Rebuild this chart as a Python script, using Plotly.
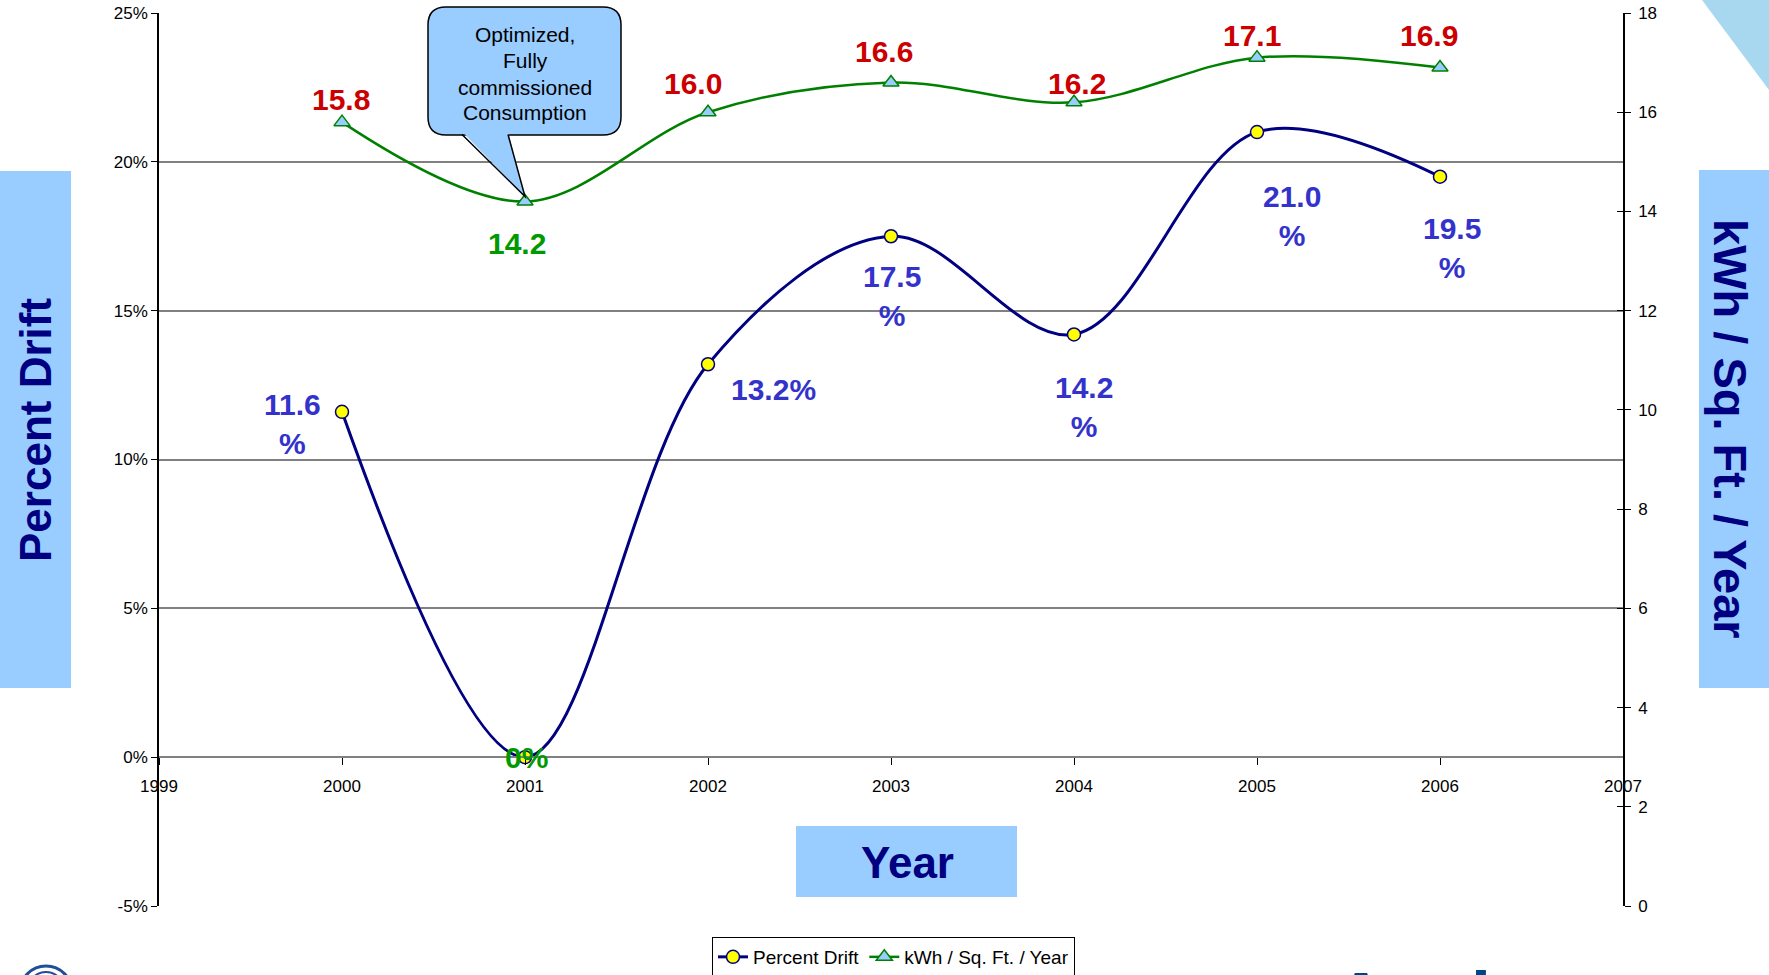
import plotly.graph_objects as go

# ---------------- data ----------------
years = [2000, 2001, 2002, 2003, 2004, 2005, 2006]
percent_drift = [11.6, 0.0, 13.2, 17.5, 14.2, 21.0, 19.5]
kwh_sqft_year = [15.8, 14.2, 16.0, 16.6, 16.2, 17.1, 16.9]

drift_labels = ["11.6<br>%", "0%", "13.2%", "17.5<br>%", "14.2<br>%", "21.0<br>%", "19.5<br>%"]
kwh_labels = ["15.8", "14.2", "16.0", "16.6", "16.2", "17.1", "16.9"]

x_ticks = [1999, 2000, 2001, 2002, 2003, 2004, 2005, 2006, 2007]
left_ticks = [-5, 0, 5, 10, 15, 20, 25]
left_tick_text = ["-5%", "0%", "5%", "10%", "15%", "20%", "25%"]
right_ticks = [0, 2, 4, 6, 8, 10, 12, 14, 16, 18]

callout_lines = ["Optimized,", "Fully", "commissioned", "Consumption"]

# ---------------- styles ----------------
W, H = 1769, 975
ML, MR, MT, MB = 159, 146, 13, 69
X_RANGE = [1999, 2007]
Y_RANGE = [-5, 25]
Y2_RANGE = [0, 18]

TICKFAM = "Liberation Sans Narrow, Arial Narrow, Liberation Sans, Arial, sans-serif"
ARIAL = "Liberation Sans, Arial, sans-serif"
LIGHT_BLUE = "#99CCFF"
NAVY = "#000080"

# label offsets in pixels (dx, dy up)
kwh_offsets = [(-1, 23), (-8, -42), (-15, 29), (-7, 31), (3, 19), (-5, 22), (-11, 32)]
kwh_colors = ["#CC0000", "#009900", "#CC0000", "#CC0000", "#CC0000", "#CC0000", "#CC0000"]
drift_offsets = [(-50, -12), (1, 0), (65, -25), (1, -60), (10, -73), (35, -84), (12, -71)]
drift_colors = ["#3333CC", "#009900", "#3333CC", "#3333CC", "#3333CC", "#3333CC", "#3333CC"]
callout_line_y = [35, 61, 87, 112]


def px(x):
    return (x - ML) / (W - ML - MR)


def py(y):
    return (H - MB - y) / (H - MT - MB)


fig = go.Figure()

fig.add_trace(go.Scatter(
    x=years, y=percent_drift, name="Percent Drift", mode="lines+markers",
    line=dict(color=NAVY, width=3, shape="spline", smoothing=1),
    marker=dict(symbol="circle", size=13, color="#FFFF00", line=dict(color=NAVY, width=1.5)),
    yaxis="y",
))
fig.add_trace(go.Scatter(
    x=years, y=kwh_sqft_year, name="kWh / Sq. Ft. / Year", mode="lines+markers",
    line=dict(color="#008000", width=2.5, shape="spline", smoothing=1),
    marker=dict(symbol="triangle-up", size=14, color=LIGHT_BLUE, line=dict(color="#008000", width=1.5)),
    yaxis="y2",
))
# helper trace for crossing ticks on the right axis
fig.add_trace(go.Scatter(x=[None], y=[None], yaxis="y3", showlegend=False, hoverinfo="skip"))

annotations = []
for yr, v, t, (dx, dy), c in zip(years, kwh_sqft_year, kwh_labels, kwh_offsets, kwh_colors):
    annotations.append(dict(x=yr, y=v, xref="x", yref="y2", text=t, showarrow=False,
                            xshift=dx, yshift=dy, xanchor="center", yanchor="middle",
                            font=dict(family=ARIAL, size=30, color=c, weight="bold")))
for yr, v, t, (dx, dy), c in zip(years, percent_drift, drift_labels, drift_offsets, drift_colors):
    annotations.append(dict(x=yr, y=v, xref="x", yref="y", text=t, showarrow=False,
                            xshift=dx, yshift=dy, xanchor="center", yanchor="middle",
                            font=dict(family=ARIAL, size=30, color=c, weight="bold")))

# titles in boxes
annotations += [
    dict(x=px(36), y=py(430), xref="paper", yref="paper", text="Percent Drift", textangle=-90,
         xanchor="center", yanchor="middle",
         showarrow=False, font=dict(family=ARIAL, size=44, color=NAVY, weight="bold")),
    dict(x=px(1731), y=py(429), xref="paper", yref="paper", text="kWh / Sq. Ft. / Year", textangle=90,
         xanchor="center", yanchor="middle",
         showarrow=False, font=dict(family=ARIAL, size=47, color=NAVY, weight="bold")),
    dict(x=px(907), y=py(862), xref="paper", yref="paper", text="Year",
         xanchor="center", yanchor="middle",
         showarrow=False, font=dict(family=ARIAL, size=44, color=NAVY, weight="bold")),
    dict(x=px(1333), y=py(956), xref="paper", yref="paper", text="Analyze", xanchor="left", yanchor="top",
         showarrow=False, font=dict(family=ARIAL, size=72, color="#004488", weight="bold")),
]
for line_text, ly in zip(callout_lines, callout_line_y):
    annotations.append(dict(x=px(525), y=py(ly), xref="paper", yref="paper", text=line_text,
                            xanchor="center", yanchor="middle", showarrow=False,
                            font=dict(family=ARIAL, size=21, color="black")))

# callout box (rounded rect)
bx0, bx1, by0, by1, r = px(428), px(621), py(135), py(7), 18
rx = r / (W - ML - MR)
ry = r / (H - MT - MB)
box_path = (f"M {bx0+rx},{by1} L {bx1-rx},{by1} Q {bx1},{by1} {bx1},{by1-ry} "
            f"L {bx1},{by0+ry} Q {bx1},{by0} {bx1-rx},{by0} "
            f"L {bx0+rx},{by0} Q {bx0},{by0} {bx0},{by0+ry} "
            f"L {bx0},{by1-ry} Q {bx0},{by1} {bx0+rx},{by1} Z")

shapes = [
    dict(type="rect", xref="paper", yref="paper", x0=px(0), x1=px(71), y0=py(688), y1=py(171),
         fillcolor=LIGHT_BLUE, line=dict(width=0), layer="below"),
    dict(type="rect", xref="paper", yref="paper", x0=px(1699), x1=px(1769), y0=py(688), y1=py(170),
         fillcolor=LIGHT_BLUE, line=dict(width=0), layer="below"),
    dict(type="rect", xref="paper", yref="paper", x0=px(796), x1=px(1017), y0=py(897), y1=py(826),
         fillcolor=LIGHT_BLUE, line=dict(width=0), layer="above"),
    dict(type="path", xref="paper", yref="paper",
         path=f"M {px(1702)},{py(0)} L {px(1769)},{py(0)} L {px(1769)},{py(90)} Z",
         fillcolor="#A8D8F0", line=dict(width=0), layer="below"),
    dict(type="path", xref="paper", yref="paper", path=box_path,
         fillcolor=LIGHT_BLUE, line=dict(color="black", width=1.5), layer="above"),
    dict(type="path", xref="x", yref="y2", xsizemode="pixel", ysizemode="pixel",
         xanchor=years[1], yanchor=kwh_sqft_year[1],
         path="M -63,70 L -17,70 L 0,5 Z", fillcolor=LIGHT_BLUE, line=dict(width=0), layer="above"),
    dict(type="path", xref="x", yref="y2", xsizemode="pixel", ysizemode="pixel",
         xanchor=years[1], yanchor=kwh_sqft_year[1],
         path="M -63,67 L 0,5 L -17,67", line=dict(color="black", width=1.5), layer="above"),
    dict(type="circle", xref="paper", yref="paper", x0=px(20), x1=px(72), y0=py(1018), y1=py(966),
         line=dict(color="#1F4E9A", width=3), layer="below"),
    dict(type="circle", xref="paper", yref="paper", x0=px(28), x1=px(64), y0=py(1008), y1=py(972),
         line=dict(color="#1F4E9A", width=2), layer="below"),
]

tickfont = dict(family=TICKFAM, size=17, color="black")

fig.update_layout(
    width=W, height=H,
    margin=dict(l=ML, r=MR, t=MT, b=MB, pad=0, autoexpand=False),
    paper_bgcolor="white", plot_bgcolor="white",
    showlegend=True,
    legend=dict(orientation="h", x=px(712), y=py(937), xanchor="left", yanchor="top",
                bordercolor="black", borderwidth=1, bgcolor="white",
                font=dict(family=TICKFAM, size=19, color="black")),
    xaxis=dict(range=X_RANGE, tickvals=x_ticks, anchor="free",
               position=(0 - Y_RANGE[0]) / (Y_RANGE[1] - Y_RANGE[0]),
               showline=True, linecolor="#808080", linewidth=2,
               ticks="outside", ticklen=7, tickcolor="black", tickwidth=1,
               showgrid=False, zeroline=False, tickfont=tickfont, ticklabelstandoff=6),
    yaxis=dict(range=Y_RANGE, tickvals=left_ticks, ticktext=left_tick_text,
               showgrid=True, gridcolor="#808080", gridwidth=1.5,
               showline=True, linecolor="black", linewidth=1.5,
               ticks="outside", ticklen=6, tickcolor="black",
               zeroline=False, tickfont=tickfont, domain=[0, 1]),
    yaxis2=dict(range=Y2_RANGE, tickvals=right_ticks, side="right", overlaying="y",
                showgrid=False, showline=True, linecolor="black", linewidth=1.5,
                ticks="outside", ticklen=6, tickcolor="black", zeroline=False, tickfont=tickfont,
                ticklabelstandoff=4),
    yaxis3=dict(range=Y2_RANGE, tickvals=right_ticks, side="right", overlaying="y",
                showgrid=False, showline=False, showticklabels=False,
                ticks="inside", ticklen=6, tickcolor="black", zeroline=False),
    annotations=annotations,
    shapes=shapes,
)

fig.write_html("out.html")
